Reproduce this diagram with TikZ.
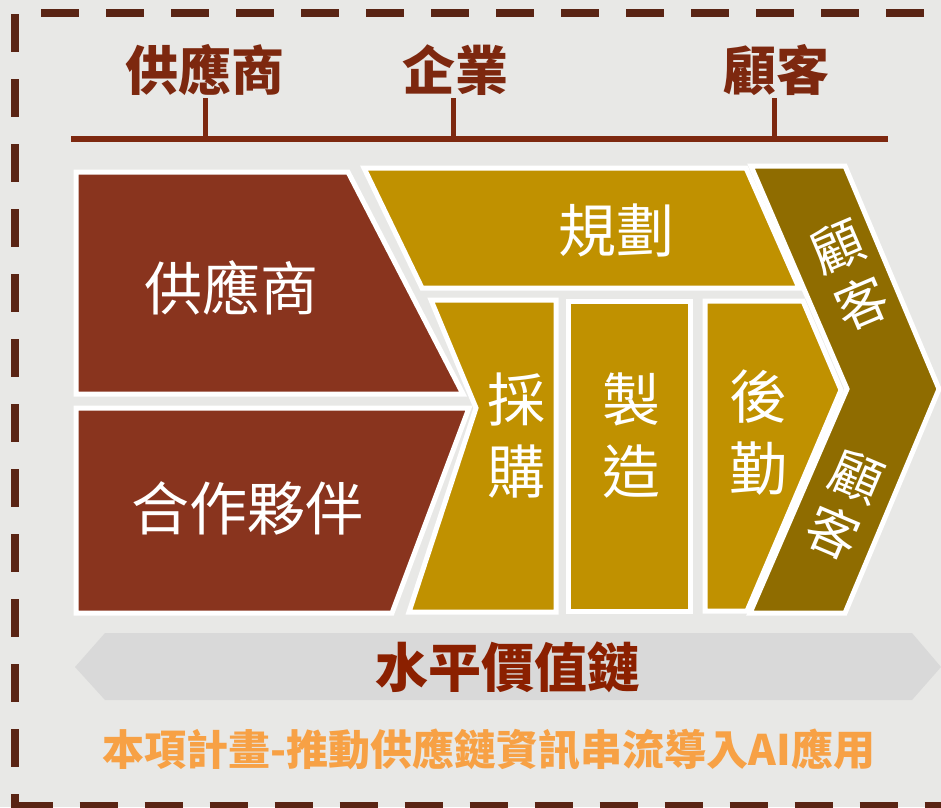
\documentclass[tikz,border=0pt]{standalone}
\usepackage{fontspec}
\setmainfont{Noto Sans CJK TC}
\usepackage{xcolor}
\usetikzlibrary{positioning}
\definecolor{paper}{RGB}{232,232,230}
\definecolor{framebrown}{RGB}{90,36,20}
\definecolor{rust}{RGB}{125,40,15}
\definecolor{brick}{RGB}{137,52,30}
\definecolor{gold}{RGB}{192,145,0}
\definecolor{darkgold}{RGB}{143,108,0}
\definecolor{silver}{RGB}{217,217,217}
\definecolor{chainred}{RGB}{139,32,0}
\definecolor{orangetext}{RGB}{247,161,69}

\begin{document}
\begin{tikzpicture}[
    x=1pt, y=-1pt,
    borderdash/.style={draw=framebrown, line width=8pt, dash pattern=on 38pt off 27pt},
    tier/.style={font=\bfseries\fontsize{53}{56}\selectfont, text=rust, inner sep=0pt},
    tick/.style={draw=rust, line width=5pt},
    stage/.style={draw=white, line width=5pt, line join=miter},
    boxtext/.style={font=\fontsize{58}{72}\selectfont, text=white, align=center, inner sep=0pt},
    custtext/.style={font=\fontsize{52}{61}\selectfont, text=white, align=center, inner sep=0pt}
  ]
    \useasboundingbox (0,0) rectangle (941,807);
    \fill[paper] (0,0) rectangle (941,807);

    \draw[borderdash] (14.5,14) -- (14.5,812);
    \draw[borderdash] (14.5,806) -- (960,806);
    \draw[borderdash] (41,13) -- (960,13);

    \node[tier, anchor=south] (tsup) at (205,96) {供應商};
    \node[tier, anchor=south] (tfirm) at (455,96) {企業};
    \node[tier, anchor=south] (tcust) at (776,96) {顧客};
    \coordinate (linel) at (71,139);
    \coordinate (liner) at (888,139);
    \draw[tick, line width=6pt] (linel) -- (liner);
    \draw[tick] (tsup.south) ++(0,2) -- (tsup.south |- linel);
    \draw[tick] (tfirm.south) ++(-2,2) -- ([xshift=-2pt]tfirm.south |- linel);
    \draw[tick] (tcust.south) ++(-2,2) -- ([xshift=-2pt]tcust.south |- linel);

    \filldraw[stage, fill=brick] (76,172) -- (348,172) -- (463,394) -- (76,394) -- cycle;
    \filldraw[stage, fill=brick] (76,408) -- (469,408) -- (392,613) -- (76,613) -- cycle;
    \filldraw[stage, fill=gold] (364,168) -- (746,168) -- (799,288) -- (422,288) -- cycle;
    \filldraw[stage, fill=gold] (431,300) -- (556,300) -- (556,612) -- (409,612) -- (476,408) -- cycle;
    \filldraw[stage, fill=gold] (568,301) -- (690,301) -- (690,611) -- (568,611) -- cycle;
    \filldraw[stage, fill=gold] (705,301) -- (803,301) -- (841,390) -- (747,611) -- (705,611) -- cycle;
    \filldraw[stage, fill=darkgold] (751,166) -- (845,166) -- (939,389) -- (845,613) -- (750,613) -- (847,389) -- cycle;

    \node[boxtext] (supplier) at (231,288) {供應商};
    \node[boxtext] (partner) at (247,508) {合作夥伴};
    \node[boxtext] (plan) at (616,230) {規劃};
    \node[boxtext] (purchase) at (516,436) {採\\購};
    \node[boxtext] (make) at (631,436) {製\\造};
    \node[boxtext] (logistics) at (758,433) {後\\勤};
    \node[custtext, rotate=23] (custup) at (850,275) {顧\\客};
    \node[custtext, rotate=-23] (custdown) at (845,505) {顧\\客};

    \fill[silver] (75,667) -- (105,633) -- (912,633) -- (941,667) -- (912,700) -- (105,700) -- cycle;
    \node[font=\bfseries\fontsize{53}{56}\selectfont, text=chainred, inner sep=0pt] (hchain) at (508,667) {水平價值鏈};
    \node[font=\bfseries\fontsize{42}{44}\selectfont, text=orangetext, inner sep=0pt] (project) at (489,750) {本項計畫-推動供應鏈資訊串流導入AI應用};
  \end{tikzpicture}
\end{document}
